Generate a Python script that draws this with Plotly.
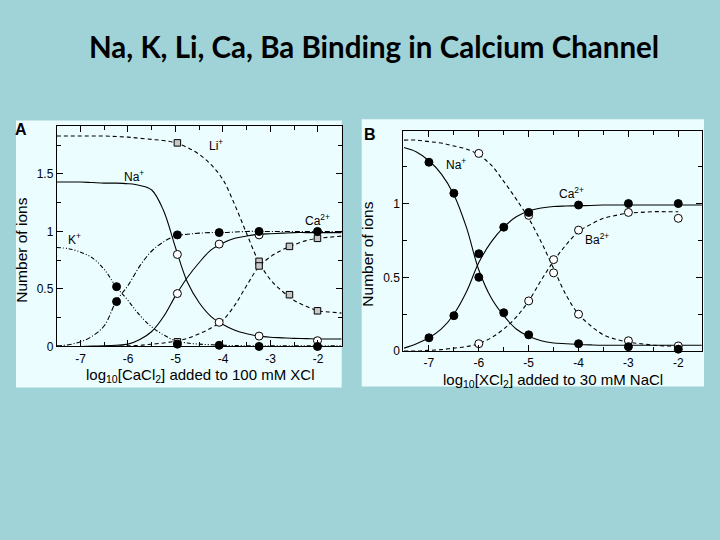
import plotly.graph_objects as go

# ---- panel A: CaCl2 added to 100 mM XCl ----
xa = [-7.5, -7.25, -7.0, -6.75, -6.5, -6.25, -6.0, -5.75, -5.5, -5.25, -5.0, -4.75,
      -4.5, -4.25, -4.0, -3.75, -3.5, -3.25, -3.0, -2.75, -2.5, -2.25, -2.0, -1.75, -1.5]
na_a = [1.43, 1.43, 1.43, 1.425, 1.42, 1.42, 1.415, 1.40, 1.36, 1.18, 0.86, 0.56,
        0.38, 0.26, 0.19, 0.14, 0.11, 0.09, 0.08, 0.075, 0.07, 0.068, 0.065, 0.065, 0.065]
ca_na = [0.0, 0.0, 0.0, 0.003, 0.005, 0.01, 0.02, 0.06, 0.13, 0.26, 0.44, 0.60,
         0.73, 0.84, 0.90, 0.94, 0.96, 0.975, 0.98, 0.985, 0.99, 0.99, 0.99, 0.99, 0.99]
li_a = [1.83, 1.83, 1.83, 1.83, 1.83, 1.825, 1.82, 1.81, 1.80, 1.79, 1.77, 1.73,
        1.67, 1.58, 1.45, 1.23, 0.98, 0.74, 0.58, 0.48, 0.40, 0.35, 0.31, 0.30, 0.29]
ca_li = [0.0, 0.0, 0.0, 0.0, 0.0, 0.003, 0.005, 0.01, 0.02, 0.03, 0.045, 0.07,
         0.11, 0.16, 0.23, 0.36, 0.53, 0.69, 0.78, 0.84, 0.885, 0.92, 0.94, 0.95, 0.96]
k_a = [0.86, 0.85, 0.82, 0.77, 0.67, 0.52, 0.40, 0.27, 0.17, 0.10, 0.05, 0.03,
       0.02, 0.015, 0.01, 0.008, 0.006, 0.005, 0.005, 0.005, 0.005, 0.005, 0.005, 0.005, 0.005]
ca_k = [0.005, 0.015, 0.04, 0.09, 0.18, 0.39, 0.53, 0.70, 0.83, 0.91, 0.96, 0.975,
        0.985, 0.99, 0.99, 0.995, 1.0, 1.0, 1.0, 1.0, 1.0, 1.0, 1.0, 1.0, 1.0]

# measured points, panel A
fill_xa = [-6.24, -6.24, -4.96, -4.96, -4.08, -4.08, -3.24, -3.24, -2.01, -2.01]
fill_ya = [0.52, 0.39, 0.97, 0.02, 0.99, 0.01, 1.0, 0.0, 1.0, 0.0]
open_xa = [-4.96, -4.96, -4.08, -4.08, -3.24, -3.24, -2.01]
open_ya = [0.80, 0.46, 0.89, 0.21, 0.97, 0.09, 0.05]
sq_xa = [-4.96, -4.96, -3.24, -3.24, -2.6, -2.6, -2.01, -2.01]
sq_ya = [1.77, 0.04, 0.74, 0.70, 0.87, 0.45, 0.94, 0.31]

# ---- panel B: XCl2 added to 30 mM NaCl ----
xb = [-7.5, -7.25, -7.0, -6.75, -6.5, -6.25, -6.0, -5.75, -5.5, -5.25, -5.0, -4.75,
      -4.5, -4.25, -4.0, -3.75, -3.5, -3.25, -3.0, -2.75, -2.5, -2.25, -2.0, -1.75, -1.5]
na_ca = [1.38, 1.35, 1.29, 1.20, 1.06, 0.84, 0.55, 0.36, 0.24, 0.15, 0.10, 0.07,
         0.055, 0.05, 0.045, 0.042, 0.04, 0.04, 0.04, 0.04, 0.04, 0.04, 0.04, 0.04, 0.04]
ca_b = [0.02, 0.05, 0.09, 0.15, 0.25, 0.40, 0.60, 0.74, 0.84, 0.91, 0.95, 0.97,
        0.98, 0.983, 0.985, 0.987, 0.99, 0.99, 0.99, 0.99, 0.99, 0.99, 0.99, 0.99, 0.99]
xb2 = [-7.5, -7.25, -7.0, -6.75, -6.5, -6.25, -6.0, -5.75, -5.5, -5.25, -5.0, -4.75,
       -4.5, -4.25, -4.0, -3.75, -3.5, -3.25, -3.0, -2.75, -2.5, -2.25, -2.0]
na_ba = [1.43, 1.43, 1.42, 1.41, 1.39, 1.37, 1.33, 1.26, 1.15, 1.03, 0.90, 0.74,
         0.56, 0.38, 0.25, 0.17, 0.11, 0.08, 0.06, 0.05, 0.04, 0.035, 0.035]
ba_b = [0.0, 0.0, 0.005, 0.01, 0.02, 0.03, 0.05, 0.09, 0.15, 0.23, 0.34, 0.48,
        0.61, 0.72, 0.81, 0.86, 0.90, 0.92, 0.935, 0.94, 0.945, 0.945, 0.945]

fill_xb = [-7, -7, -6.5, -6.5, -6, -6, -5.5, -5.5, -5, -5, -4, -4, -3, -3, -2, -2]
fill_yb = [1.28, 0.09, 1.07, 0.24, 0.66, 0.50, 0.84, 0.26, 0.94, 0.11, 0.99, 0.05, 1.0, 0.03, 1.0, 0.013]
open_xb = [-6, -6, -5, -5, -4.5, -4.5, -4, -4, -3, -3, -2, -2]
open_yb = [1.34, 0.05, 0.92, 0.34, 0.62, 0.53, 0.82, 0.25, 0.94, 0.07, 0.90, 0.035]

x_ticks = [-7, -6, -5, -4, -3, -2]
x_labels = ["-7", "-6", "-5", "-4", "-3", "-2"]

slide_bg = "#9fd3d8"
panel_bg = "#ebfdfe"
font_fam = "Liberation Sans, Arial, sans-serif"

fig = go.Figure()


def curve(x, y, dash, ax):
    fig.add_trace(go.Scatter(x=x, y=y, mode="lines", line_shape="spline",
                             line=dict(color="black", width=1.1, dash=dash),
                             xaxis=ax[0], yaxis=ax[1], showlegend=False,
                             hoverinfo="skip"))


def points(x, y, sym, fill, size, ax):
    fig.add_trace(go.Scatter(x=x, y=y, mode="markers",
                             marker=dict(symbol=sym, size=size, color=fill,
                                         line=dict(color="black", width=1)),
                             xaxis=ax[0], yaxis=ax[1], showlegend=False,
                             cliponaxis=False))


A = ("x", "y")
B = ("x2", "y2")

curve(xa, li_a, "4px,3px", A)
curve(xa, ca_li, "4px,3px", A)
curve(xa, k_a, "4px,2px,1px,2px,1px,2px", A)
curve(xa, ca_k, "5px,2px,1px,2px", A)
curve(xa, na_a, "solid", A)
curve(xa, ca_na, "solid", A)
points(sq_xa, sq_ya, "square", "#c8c8c8", 6.5, A)
points(open_xa, open_ya, "circle", "white", 8, A)
points(fill_xa, fill_ya, "circle", "black", 8, A)

curve(xb2, na_ba, "4px,3px", B)
curve(xb2, ba_b, "4px,3px", B)
curve(xb, na_ca, "solid", B)
curve(xb, ca_b, "solid", B)
points(open_xb, open_yb, "circle", "white", 8, B)
points(fill_xb, fill_yb, "circle", "black", 8, B)

axis_common = dict(showline=True, linecolor="black", linewidth=1, mirror="ticks",
                   ticks="inside", ticklen=6, tickcolor="black", showgrid=False,
                   zeroline=False, tickfont=dict(size=12, color="black", family=font_fam),
                   minor=dict(ticks="inside", ticklen=4, tickcolor="black"))

fig.update_layout(
    width=720, height=540,
    margin=dict(l=0, r=0, t=0, b=0),
    paper_bgcolor=slide_bg,
    plot_bgcolor=panel_bg,
    font=dict(family=font_fam, color="black"),
    xaxis=dict(domain=[0.0788, 0.4746], range=[-7.5, -1.5], anchor="y",
               tickvals=x_ticks, ticktext=x_labels, **axis_common),
    yaxis=dict(domain=[0.35, 0.7643], range=[0, 1.92], anchor="x",
               tickvals=[0, 0.5, 1, 1.5], ticktext=["0", "0.5", "1", "1.5"], **axis_common),
    xaxis2=dict(domain=[0.5601, 0.9746], range=[-7.515, -1.53], anchor="y2",
                tickvals=x_ticks, ticktext=x_labels, **axis_common),
    yaxis2=dict(domain=[0.3413, 0.7537], range=[0, 1.49], anchor="x2",
                tickvals=[0, 0.5, 1], ticktext=["0", "0.5", "1"], **axis_common),
)
fig.update_xaxes(minor_dtick=0.5, ticklabelstandoff=1)
fig.update_yaxes(minor_dtick=0.25)

# light panel frames behind the plots
fig.add_shape(type="rect", xref="paper", yref="paper", layer="below",
              x0=16 / 720, x1=341.7 / 720, y0=1 - 392.7 / 540, y1=1 - 122 / 540,
              fillcolor=panel_bg, line_width=0)
fig.add_shape(type="rect", xref="paper", yref="paper", layer="below",
              x0=361.7 / 720, x1=704 / 720, y0=1 - 391.7 / 540, y1=1 - 120.7 / 540,
              fillcolor=panel_bg, line_width=0)


def label(text, x, y, xref, yref, size=12, family=font_fam, **kw):
    fig.add_annotation(text=text, x=x, y=y, xref=xref, yref=yref, showarrow=False,
                       xanchor="center", yanchor="middle",
                       font=dict(size=size, color="black", family=family), **kw)


label("Li<sup>+</sup>", -4.15, 1.75, "x", "y")
label("Na<sup>+</sup>", -5.88, 1.48, "x", "y")
label("K<sup>+</sup>", -7.12, 0.93, "x", "y")
label("Ca<sup>2+</sup>", -2.0, 1.10, "x", "y")
label("Na<sup>+</sup>", -6.45, 1.27, "x2", "y2")
label("Ca<sup>2+</sup>", -4.15, 1.07, "x2", "y2")
label("Ba<sup>2+</sup>", -3.62, 0.76, "x2", "y2")

label("<b>A</b>", 21 / 720, 1 - 131 / 540, "paper", "paper", size=16)
label("<b>B</b>", 370 / 720, 1 - 136 / 540, "paper", "paper", size=16)

label("Number of ions", 22 / 720, 1 - 254 / 540, "paper", "paper", size=15.5, textangle=-90)
label("Number of ions", 368 / 720, 1 - 258 / 540, "paper", "paper", size=15.5, textangle=-90)
label("log<sub>10</sub>[CaCl<sub>2</sub>] added to 100 mM XCl", 200 / 720, 1 - 380 / 540,
      "paper", "paper", size=15)
label("log<sub>10</sub>[XCl<sub>2</sub>] added to 30 mM NaCl", 553 / 720, 1 - 386 / 540,
      "paper", "paper", size=15)

label("<b>Na, K, Li, Ca, Ba Binding in Calcium Channel</b>", 374 / 720, 1 - 47 / 540,
      "paper", "paper", size=29.5, family="Lato, sans-serif")

fig.write_html("out.html", config={"displayModeBar": False},
               post_script="document.body.style.margin='0';")
